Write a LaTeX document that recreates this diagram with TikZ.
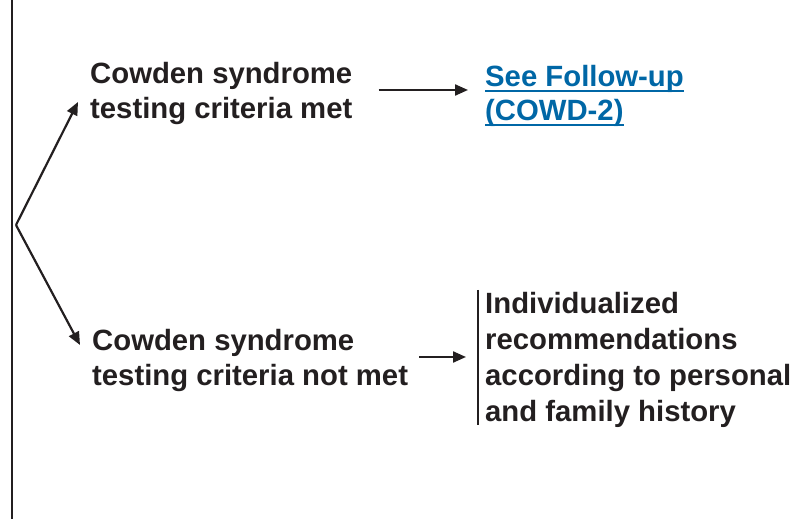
\documentclass[tikz,border=0pt]{standalone}
\usepackage{fontspec}
\setmainfont{Liberation Sans}
\usetikzlibrary{positioning,arrows.meta}
\definecolor{linkblue}{RGB}{0,103,166}
\definecolor{ink}{RGB}{35,31,32}
\newcommand\linkul[1]{\leavevmode\setbox0\hbox{#1}\rlap{\rule[-5.5pt]{\wd0}{2.2pt}}\box0}
\begin{document}
\begin{tikzpicture}[x=1pt,y=1pt,
    txt/.style={align=left, anchor=west, inner sep=0pt, text=ink,
      font=\fontsize{29.3}{35}\selectfont\bfseries},
    arr/.style={-{Triangle[length=13pt,width=11pt]}, line width=2.2pt, draw=ink}]
  \useasboundingbox (0,0) rectangle (793,519);
  \draw[line width=2.5pt, ink] (12,0) -- (12,519);
  \coordinate (fork) at (16,294);
  \node[txt] (met) at (90,426) {Cowden syndrome\\testing criteria met};
  \node[txt] (notmet) at (92,159) {Cowden syndrome\\testing criteria not met};
  \node[txt, text=linkblue, font=\fontsize{29.3}{34}\selectfont\bfseries] (follow) at (485,423)
    {\linkul{See Follow-up}\\\linkul{(COWD-2)}};
  \node[txt, font=\fontsize{29.3}{36}\selectfont\bfseries] (indiv) at (485,159)
    {Individualized\\recommendations\\according to personal\\and family history};
  \coordinate (uptip) at (78,417);
  \coordinate (lowtip) at (80,174);
  \draw[arr] (fork) -- (uptip);
  \draw[arr] (fork) -- (lowtip);
  \draw[arr] ([xshift=26pt]met.east |- 0,429) -- ([xshift=-17pt]follow.west |- 0,429);
  \draw[arr] ([xshift=11pt]notmet.east |- 0,162) -- (466,162);
  % bracket in front of the recommendations
  \draw[line width=2.5pt, ink] ([xshift=-7pt]indiv.north west |- 0,229) -- ([xshift=-7pt]indiv.south west |- 0,94);
\end{tikzpicture}
\end{document}
